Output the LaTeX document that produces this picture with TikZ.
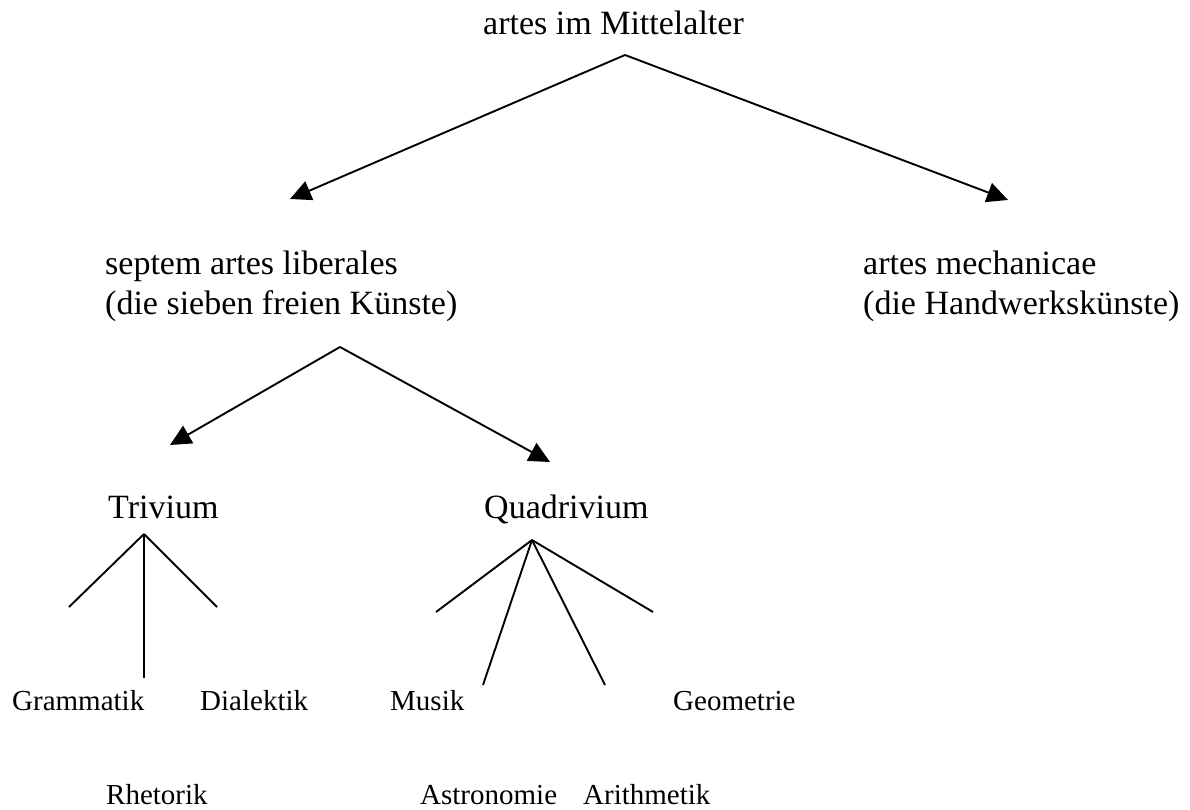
\documentclass[tikz,border=0pt]{standalone}
\usepackage{fontspec}
\setmainfont{Liberation Serif}
\usetikzlibrary{arrows.meta}
\begin{document}
\begin{tikzpicture}[x=1pt,y=1pt,
  big/.style={inner sep=0pt,anchor=base west,font=\fontsize{34}{40}\selectfont},
  small/.style={inner sep=0pt,anchor=base west,font=\fontsize{29}{34}\selectfont},
  conn/.style={line width=1.9pt},
  arr/.style={conn,-{Triangle[length=21pt,width=20pt]}}]
\useasboundingbox (0,0) rectangle (1190,809);
% texts
\node[big] (top) at (483,774) {artes im Mittelalter};
\node[big] (sal1) at (105,534) {septem artes liberales};
\node[big] (sal2) at (105,494) {(die sieben freien Künste)};
\node[big] (am1) at (863,534) {artes mechanicae};
\node[big] (am2) at (863,494) {(die Handwerkskünste)};
\node[big] (triv) at (108,291) {Trivium};
\node[big] (quad) at (484,291) {Quadrivium};
\node[small] (gram) at (12,99) {Grammatik};
\node[small] (dial) at (200,99) {Dialektik};
\node[small] (rhet) at (106,5) {Rhetorik};
\node[small] (mus) at (390,99) {Musik};
\node[small] (geo) at (673,99) {Geometrie};
\node[small] (astr) at (420,5) {Astronomie};
\node[small] (arit) at (583,5) {Arithmetik};
% connector points
\coordinate (topA) at (625,754);
\coordinate (salT) at (290,610);
\coordinate (amT) at (1008,609);
\coordinate (salA) at (340,462);
\coordinate (trivT) at (170,364);
\coordinate (quadT) at (550,347);
\coordinate (trivA) at (144,275);
\coordinate (gramE) at (69,202);
\coordinate (rhetE) at (144,131);
\coordinate (dialE) at (217,202);
\coordinate (quadA) at (532,269);
\coordinate (musE) at (436,197);
\coordinate (astrE) at (483,124);
\coordinate (aritE) at (605,124);
\coordinate (geoE) at (653,197);
% arrows
\draw[arr] (topA) -- (salT);
\draw[arr] (topA) -- (amT);
\draw[arr] (salA) -- (trivT);
\draw[arr] (salA) -- (quadT);
% lines
\draw[conn] (trivA) -- (gramE);
\draw[conn] (trivA) -- (rhetE);
\draw[conn] (trivA) -- (dialE);
\draw[conn] (quadA) -- (musE);
\draw[conn] (quadA) -- (astrE);
\draw[conn] (quadA) -- (aritE);
\draw[conn] (quadA) -- (geoE);
\end{tikzpicture}
\end{document}
